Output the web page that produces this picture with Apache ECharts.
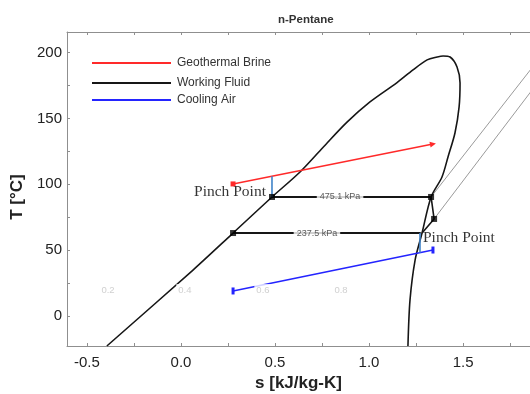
<!DOCTYPE html>
<html>
<head>
<meta charset="utf-8">
<style>
  html, body { margin: 0; padding: 0; background: #fff; }
  #chart { width: 530px; height: 394px; }
</style>
<script src="https://cdn.jsdelivr.net/npm/echarts@6.0.0/dist/echarts.min.js"></script>
</head>
<body>
<div id="chart"></div>
<script>
// saturation dome, n-pentane (s in kJ/kg-K, T in degC)
const domeS = [-0.394, 0.064, 0.277, 0.484, 0.633, 0.755, 0.883, 1.005, 1.149, 1.234, 1.309, 1.362, 1.394, 1.431, 1.468, 1.484, 1.479, 1.457, 1.420, 1.388, 1.330, 1.282, 1.245, 1.218, 1.207];
const domeT = [-22.8, 34.9, 63.0, 90.4, 109.4, 128.0, 147.2, 162.6, 177.3, 186.9, 194.5, 196.7, 197.5, 196.7, 189.1, 177.0, 158.8, 139.0, 120.8, 105.6, 90.4, 63.0, 42.5, 12.2, -22.8];

// cycle state points (black squares)
const stateS = [0.277, 0.484, 1.330, 1.346];
const stateT = [63.0, 90.4, 90.4, 73.7];

// isobars inside the dome
const hpS = [0.484, 1.330], hpT = [90.4, 90.4], hpLabel = '475.1 kPa', hpLabelS = 0.846;
const lpS = [0.277, 1.275], lpT = [63.0, 63.0], lpLabel = '237.5 kPa', lpLabelS = 0.723;

// expansion + desuperheating
const expS = [1.330, 1.346, 1.282];
const expT = [90.4, 73.7, 63.0];

// superheated isobars (grey)
const isoHiS = [1.330, 1.860], isoHiT = [90.4, 187.3];
const isoLoS = [1.346, 1.860], isoLoT = [73.7, 170.3];

// heat source / sink streams
const brineS = [0.277, 1.340], brineT = [100.3, 130.6];
const airS = [0.277, 1.340], airT = [19.0, 50.1];

// pinch points
const pinchHotS = [0.484, 0.484], pinchHotT = [106.2, 90.4];
const pinchColdS = [1.271, 1.271], pinchColdT = [63.0, 48.1];
const pinchLabelS = [0.452, 1.287], pinchLabelT = [93.9, 59.1];

// vapour quality labels
const qualLabels = ['0.2', '0.4', '0.6', '0.8'];
const qualS = [-0.388, 0.021, 0.436, 0.851];
const qualT = 19.7;

// axis ticks
const xLabels = [-0.5, 0, 0.5, 1.0, 1.5];
const xTicks = [-0.5, -0.25, 0, 0.25, 0.5, 0.75, 1.0, 1.25, 1.5, 1.75];
const yLabels = [0, 50, 100, 150, 200];
const yTicks = [0, 25, 50, 75, 100, 125, 150, 175, 200];

const pts = (xs, ys) => xs.map((x, i) => [x, Array.isArray(ys) ? ys[i] : ys]);

const axisGrey = '#8f8f8f';
const RED = '#ff2a2a', BLUE = '#2424ff', BLACK = '#161616';

const chart = echarts.init(document.getElementById('chart'), null, { renderer: 'canvas' });

const plainLine = (data, color, width, z) => ({
  type: 'line', data, showSymbol: false, symbol: 'none',
  lineStyle: { color, width }, itemStyle: { color }, z: z || 2, silent: true
});

const textSeries = (data, fmt, label, z) => ({
  type: 'scatter', data, symbolSize: 0, z: z || 10, silent: true,
  label: Object.assign({ show: true, formatter: fmt }, label)
});

const legendBox = (name, top) => ({
  data: [name], left: 92, top, icon: 'rect', itemWidth: 79, itemHeight: 2,
  itemGap: 0, padding: 0, selectedMode: false,
  textStyle: { fontFamily: 'Liberation Sans', fontSize: 12, color: '#333', padding: [2, 0, 0, 1] }
});

chart.setOption({
  animation: false,
  backgroundColor: '#fff',
  title: {
    text: 'n-Pentane', left: 278, top: 14, padding: 0,
    textStyle: { fontFamily: 'Liberation Sans', fontSize: 11.5, fontWeight: 'bold', color: '#333' }
  },
  legend: [
    legendBox('Geothermal Brine', 57),
    legendBox('Working Fluid', 77),
    legendBox('Cooling Air', 94)
  ],
  grid: { left: 67, right: 0, top: 32, bottom: 48, outerBoundsMode: 'none' },
  xAxis: [
    {
      type: 'value', min: -0.606, max: 1.856,
      name: 's [kJ/kg-K]', nameLocation: 'middle', nameGap: 28,
      nameTextStyle: { fontFamily: 'Liberation Sans', fontSize: 17, fontWeight: 'bold', color: '#222' },
      axisLine: { show: true, onZero: false, lineStyle: { color: axisGrey, width: 1 } },
      axisTick: { show: true, inside: true, length: 3, customValues: xTicks, lineStyle: { color: axisGrey } },
      axisLabel: {
        customValues: xLabels, margin: 9, color: '#222', fontFamily: 'Liberation Sans', fontSize: 15,
        formatter: v => v.toFixed(1)
      },
      splitLine: { show: false }
    },
    {
      type: 'value', position: 'top', min: -0.606, max: 1.856,
      axisLine: { show: true, onZero: false, lineStyle: { color: axisGrey, width: 1 } },
      axisTick: { show: true, inside: true, length: 3, customValues: xTicks, lineStyle: { color: axisGrey } },
      axisLabel: { show: false },
      splitLine: { show: false }
    }
  ],
  yAxis: {
    type: 'value', min: -22.8, max: 215.7,
    name: 'T [°C]', nameLocation: 'middle', nameGap: 38,
    nameTextStyle: { fontFamily: 'Liberation Sans', fontSize: 17, fontWeight: 'bold', color: '#222', padding: [0, 16, 0, 0] },
    axisLine: { show: true, onZero: false, lineStyle: { color: axisGrey, width: 1 } },
    axisTick: { show: true, inside: true, length: 3, customValues: yTicks, lineStyle: { color: axisGrey } },
    axisLabel: { customValues: yLabels, margin: 5, color: '#222', fontFamily: 'Liberation Sans', fontSize: 15 },
    splitLine: { show: false }
  },
  series: [
    // superheated isobars
    plainLine(pts(isoHiS, isoHiT), '#9a9a9a', 1, 1),
    plainLine(pts(isoLoS, isoLoT), '#9a9a9a', 1, 1),
    // saturation dome = working fluid
    Object.assign(plainLine(pts(domeS, domeT), BLACK, 1.6, 3), { name: 'Working Fluid', smooth: 0.3 }),
    plainLine(pts(hpS, hpT), BLACK, 2, 3),
    plainLine(pts(lpS, lpT), BLACK, 2, 3),
    plainLine(pts(expS, expT), BLACK, 1.6, 3),
    {
      type: 'scatter', data: pts(stateS, stateT), symbol: 'rect', symbolSize: 6,
      itemStyle: { color: '#000' }, z: 12, silent: true
    },
    // brine
    {
      name: 'Geothermal Brine', type: 'line', z: 4, silent: true,
      data: pts(brineS, brineT).map((p, i) => i === 0
        ? { value: p, symbol: 'rect', symbolSize: 5 }
        : { value: p, symbol: 'triangle', symbolSize: 6, symbolRotate: -79 }),
      showSymbol: true, lineStyle: { color: RED, width: 1.6 }, itemStyle: { color: RED }
    },
    // cooling air
    {
      name: 'Cooling Air', type: 'line', z: 4, silent: true,
      data: pts(airS, airT).map(p => ({ value: p, symbol: 'rect', symbolSize: [3, 7] })),
      showSymbol: true, lineStyle: { color: BLUE, width: 1.6 }, itemStyle: { color: BLUE }
    },
    // pinch markers
    plainLine(pts(pinchHotS, pinchHotT), '#3f83c8', 1.6, 5),
    plainLine(pts(pinchColdS, pinchColdT), '#3f83c8', 1.6, 5),
    // texts
    textSeries([[hpLabelS, hpT[0]]], () => hpLabel,
      { position: 'inside', fontFamily: 'Liberation Sans', fontSize: 9, color: '#333', backgroundColor: '#fff', padding: [1, 3] }),
    textSeries([[lpLabelS, lpT[0]]], () => lpLabel,
      { position: 'inside', fontFamily: 'Liberation Sans', fontSize: 9, color: '#333', backgroundColor: '#fff', padding: [1, 3] }),
    textSeries(pts(qualS, qualT), p => qualLabels[p.dataIndex],
      { position: 'inside', fontFamily: 'Liberation Sans', fontSize: 9.5, color: '#c4c4c4', backgroundColor: '#fff', padding: [1, 2] }),
    textSeries([[pinchLabelS[0], pinchLabelT[0]]], () => 'Pinch Point',
      { position: 'left', distance: 0, fontFamily: 'Liberation Serif', fontSize: 15.5, color: '#000' }, 15),
    textSeries([[pinchLabelS[1], pinchLabelT[1]]], () => 'Pinch Point',
      { position: 'right', distance: 0, fontFamily: 'Liberation Serif', fontSize: 15.5, color: '#000' }, 15)
  ]
});

window.addEventListener('resize', () => chart.resize());
</script>
</body>
</html>
